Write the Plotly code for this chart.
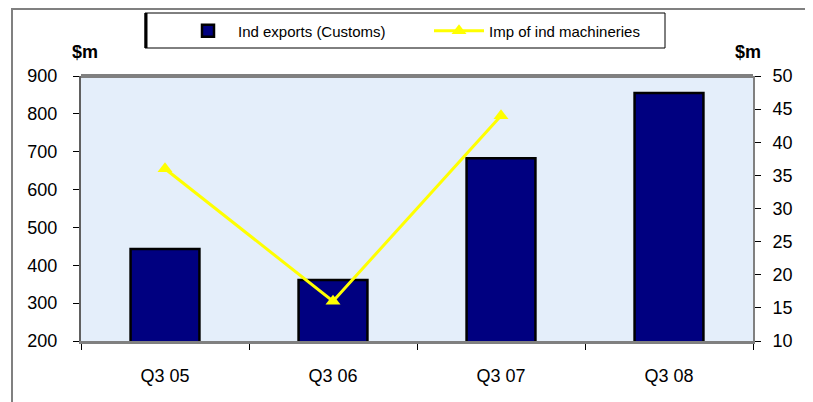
import plotly.graph_objects as go

categories = ["Q3 05", "Q3 06", "Q3 07", "Q3 08"]
ind_exports = [443, 361, 683, 855]
imp_machineries = [36, 16, 44, None]
left_ticks = [200, 300, 400, 500, 600, 700, 800, 900]
right_ticks = [10, 15, 20, 25, 30, 35, 40, 45, 50]

# page body has an 8px default margin; work in window pixel coordinates
OFF = 8
W, H = 805, 394
PL, PR, PT, PB = 81, 753, 76, 341  # plot area in window coords
L, R, T, B = PL - OFF, W - (PR - OFF), PT - OFF, H - (PB - OFF)
pw, ph = W - L - R, H - T - B

def px(x):
    return (x - OFF - L) / pw

def py(y):
    return (H - B - (y - OFF)) / ph

FONT = "Liberation Sans, Arial, sans-serif"

fig = go.Figure()
fig.add_trace(go.Bar(
    x=categories, y=ind_exports, name="Ind exports (Customs)",
    marker=dict(color="#000080", line=dict(color="black", width=2.5)),
    width=0.41, yaxis="y",
))
fig.add_trace(go.Scatter(
    x=categories, y=imp_machineries, name="Imp of ind machineries",
    mode="lines+markers", line=dict(color="#ffff00", width=3),
    marker=dict(symbol="triangle-up", size=13, color="#ffff00"),
    yaxis="y2", connectgaps=False,
))

fig.update_layout(
    width=W, height=H,
    margin=dict(l=L, r=R, t=T, b=B, pad=0, autoexpand=False),
    paper_bgcolor="white",
    plot_bgcolor="#e4eefa",
    font=dict(family=FONT, size=18, color="black"),
    showlegend=True,
    legend=dict(
        orientation="h", x=px(178), y=py(31), xanchor="left", yanchor="middle",
        borderwidth=0, bgcolor="rgba(0,0,0,0)",
        font=dict(size=15, family=FONT), itemwidth=50,
        entrywidth=186, tracegroupgap=0,
    ),
    xaxis=dict(
        showgrid=False, showline=True, linecolor="#808080", linewidth=3,
        ticks="outside", ticklen=6, tickcolor="black", tickson="boundaries",
        tickfont=dict(size=18), range=[-0.5, 3.5], ticklabelstandoff=16,
    ),
    yaxis=dict(
        range=[200, 900], tickvals=left_ticks, showgrid=False,
        showline=True, linecolor="#606060", linewidth=2,
        ticks="outside", ticklen=6, tickcolor="black",
        tickfont=dict(size=18), ticklabelstandoff=12,
    ),
    yaxis2=dict(
        range=[10, 50], tickvals=right_ticks, overlaying="y", side="right",
        showgrid=False, showline=True, linecolor="#808080", linewidth=2,
        ticks="outside", ticklen=6, tickcolor="black",
        tickfont=dict(size=18), ticklabelstandoff=8,
    ),
    bargap=0.59,
    annotations=[
        dict(text="<b>$m</b>", xref="paper", yref="paper", x=px(85), y=py(52),
             xanchor="center", yanchor="middle",
             showarrow=False, font=dict(size=18, family=FONT)),
        dict(text="<b>$m</b>", xref="paper", yref="paper", x=px(748), y=py(52),
             xanchor="center", yanchor="middle",
             showarrow=False, font=dict(size=18, family=FONT)),
    ],
    shapes=[
        # outer chart frame
        dict(type="rect", xref="paper", yref="paper", x0=px(12), y0=py(430),
             x1=px(840), y1=py(9), line=dict(color="#808080", width=2), layer="below"),
        # legend box
        dict(type="rect", xref="paper", yref="paper", x0=px(145), y0=py(48),
             x1=px(665), y1=py(13), line=dict(color="black", width=1),
             fillcolor="white", layer="below"),
        # legend thick left edge
        dict(type="line", xref="paper", yref="paper", x0=px(146), x1=px(146),
             y0=py(13), y1=py(48), line=dict(color="black", width=3)),
        # plot area top border
        dict(type="line", xref="paper", yref="paper", x0=0, x1=1, y0=1, y1=1,
             line=dict(color="#808080", width=4)),
    ],
)

fig.write_html("out.html")
